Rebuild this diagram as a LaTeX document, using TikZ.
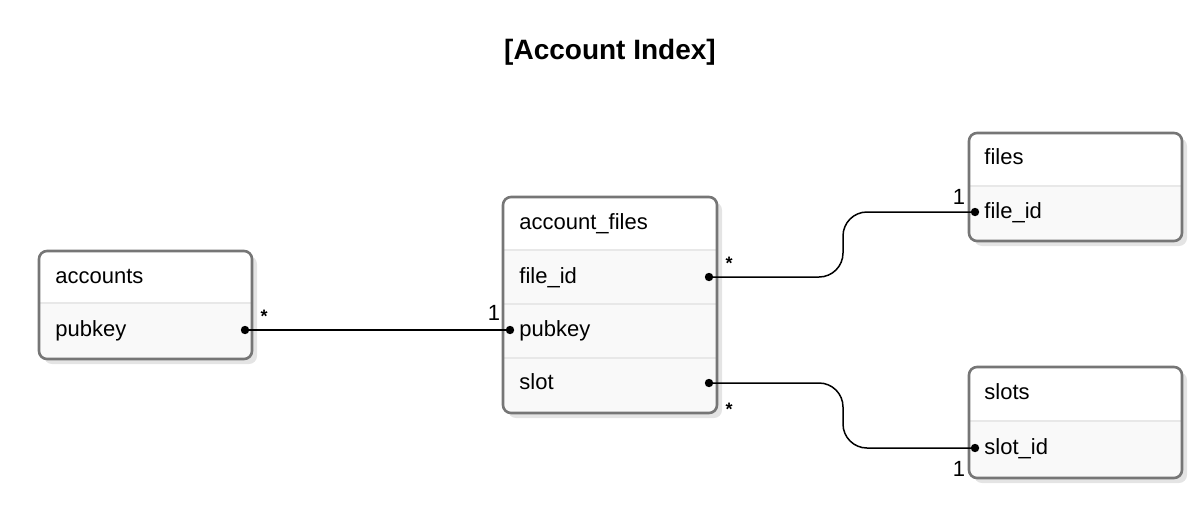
\documentclass[tikz,border=0pt]{standalone}
\usepackage{fontspec}
\setmainfont{Liberation Sans}
\usetikzlibrary{positioning}
\definecolor{boxline}{RGB}{118,118,118}
\definecolor{shadowgray}{RGB}{228,228,228}
\definecolor{sepgray}{RGB}{232,232,232}
\definecolor{rowfill}{RGB}{249,249,249}
\tikzset{
  shadowbox/.style={fill=shadowgray, rounded corners=4pt},
  tbl/.style={draw=boxline, line width=1.3pt, rounded corners=4pt},
  sep/.style={draw=sepgray, line width=0.7pt},
  fld/.style={anchor=base west, inner sep=0pt, font=\fontsize{11}{13}\selectfont},
  card/.style={inner sep=0pt, font=\fontsize{11}{13}\selectfont},
  star/.style={anchor=base, inner sep=0pt, font=\bfseries\fontsize{9}{11}\selectfont},
  dot/.style={circle, fill=black, inner sep=0pt, minimum size=4.2pt},
  rel/.style={line width=0.75pt},
}
\begin{document}
\begin{tikzpicture}[x=0.5pt,y=-0.5pt]
        \useasboundingbox (0,0) rectangle (1203,509);
        \node [font=\bfseries\fontsize{14}{16}\selectfont] (title) at (610,52) {[Account Index]};
        % accounts
        \fill [shadowbox] (44,256) rectangle (257,364);
        \begin{scope}
          \clip [rounded corners=4pt] (39,251) rectangle (252,359);
          \fill [white] (39,251) rectangle (252,303);
          \fill [rowfill] (39,303) rectangle (252,359);
        \end{scope}
        \draw [sep] (39,303) -- (252,303);
        \draw [tbl] (39,251) rectangle (252,359);
        \node [fld] (accHead) at (55,283) {accounts};
        \node [fld] (accPub) at (55,336) {pubkey};
        \node [dot] (accPubDot) at (245,330) {};
        % account_files
        \fill [shadowbox] (508,202) rectangle (722,418);
        \begin{scope}
          \clip [rounded corners=4pt] (503,197) rectangle (717,413);
          \fill [white] (503,197) rectangle (717,250);
          \fill [rowfill] (503,250) rectangle (717,413);
        \end{scope}
        \foreach \y in {250,304,358}
          \draw [sep] (503,\y) -- (717,\y);
        \draw [tbl] (503,197) rectangle (717,413);
        \node [fld] (afHead) at (519,229) {account\_files};
        \node [fld] (afFile) at (519,283) {file\_id};
        \node [fld] (afPub) at (519,336) {pubkey};
        \node [fld] (afSlot) at (519,389) {slot};
        \node [dot] (afFileDot) at (709,277) {};
        \node [dot] (afPubDot) at (510,330) {};
        \node [dot] (afSlotDot) at (709,383) {};
        % files
        \fill [shadowbox] (974,138) rectangle (1187,246);
        \begin{scope}
          \clip [rounded corners=4pt] (969,133) rectangle (1182,241);
          \fill [white] (969,133) rectangle (1182,186);
          \fill [rowfill] (969,186) rectangle (1182,241);
        \end{scope}
        \draw [sep] (969,186) -- (1182,186);
        \draw [tbl] (969,133) rectangle (1182,241);
        \node [fld] (fHead) at (984,164) {files};
        \node [fld] (fFile) at (984,218) {file\_id};
        \node [dot] (fFileDot) at (975,212) {};
        % slots
        \fill [shadowbox] (974,372) rectangle (1187,483);
        \begin{scope}
          \clip [rounded corners=4pt] (969,367) rectangle (1182,478);
          \fill [white] (969,367) rectangle (1182,421);
          \fill [rowfill] (969,421) rectangle (1182,478);
        \end{scope}
        \draw [sep] (969,421) -- (1182,421);
        \draw [tbl] (969,367) rectangle (1182,478);
        \node [fld] (sHead) at (984,399) {slots};
        \node [fld] (sSlot) at (984,454) {slot\_id};
        \node [dot] (sSlotDot) at (975,448) {};
        % relations
        \coordinate (bendA) at (843,245);
        \coordinate (bendB) at (843,415);
        \draw [rel] (accPubDot.center) -- (afPubDot.center);
        \draw [rel, rounded corners=12pt] (afFileDot.center) -| (bendA |- fFileDot.center) -- (fFileDot.center);
        \draw [rel, rounded corners=12pt] (afSlotDot.center) -| (bendB |- sSlotDot.center) -- (sSlotDot.center);
        \node [star] (accStar) at (264,322) {*};
        \node [card] (afOne) at (494,313) {1};
        \node [star] (afFileStar) at (729,269) {*};
        \node [card] (fOne) at (959,197) {1};
        \node [star] (afSlotStar) at (729,415) {*};
        \node [card] (sOne) at (959,469) {1};
\end{tikzpicture}
\end{document}
